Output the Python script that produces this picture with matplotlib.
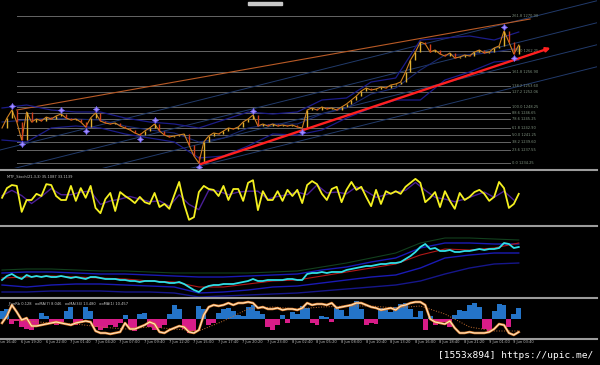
'''Gold M5 chart with stochastic, price window and histogram panels'''
import numpy as np
import matplotlib.pyplot as plt
from matplotlib.lines import Line2D
from matplotlib.patches import Rectangle

# 1. Data (one point every 32 min of bars).
price = [1243.00, 1245.50, 1247.50, 1244.50, 1240.00, 1247.00, 1244.50, 1245.25, 1244.75, 1245.75,
         1245.25, 1246.00, 1246.50, 1245.50, 1245.00, 1245.25, 1244.50, 1243.25, 1245.50, 1246.75,
         1244.75, 1244.25, 1244.00, 1244.25, 1243.50, 1243.00, 1242.50, 1241.75, 1241.25, 1242.25,
         1243.00, 1244.00, 1242.25, 1241.25, 1240.75, 1241.00, 1241.25, 1241.50, 1238.75, 1236.00,
         1234.25, 1239.50, 1241.00, 1241.75, 1241.50, 1242.25, 1243.00, 1242.75, 1243.25, 1244.50,
         1245.25, 1246.25, 1243.50, 1244.00, 1243.50, 1244.00, 1243.50, 1243.75, 1243.50, 1243.75,
         1243.25, 1243.00, 1247.50, 1248.00, 1247.50, 1248.25, 1247.75, 1248.00, 1247.50, 1248.25,
         1249.00, 1250.00, 1251.00, 1252.25, 1253.00, 1252.50, 1252.75, 1253.25, 1253.00, 1253.75,
         1254.00, 1254.50, 1257.00, 1260.00, 1262.00, 1264.50, 1264.00, 1262.00, 1262.50, 1261.50,
         1261.00, 1261.75, 1260.50, 1260.75, 1261.25, 1261.00, 1262.00, 1262.50, 1261.75, 1262.00,
         1263.00, 1263.50, 1267.25, 1264.50, 1261.50, 1263.75]

# Fractals: index and direction (1 up, -1 down).
fractalIdx = [2, 4, 12, 17, 19, 28, 31, 40, 51, 61, 102, 104]
fractalDir = [1, -1, 1, -1, 1, -1, 1, -1, 1, -1, 1, -1]

# Bollinger bands, every 5 bars.
bandIdx = list(range(0, 106, 5))
bbUpper = [1248.0, 1248.75, 1247.5, 1247.0, 1247.0, 1245.5, 1244.5, 1244.0, 1243.0, 1245.0, 1247.0,
           1246.5, 1247.0, 1250.0, 1250.5, 1254.5, 1255.5, 1265.0, 1265.5, 1266.0, 1265.0, 1267.0]
bbMiddle = [1244.5, 1245.0, 1245.5, 1245.25, 1245.0, 1243.5, 1242.5, 1241.75, 1239.5, 1240.5, 1243.0,
            1244.0, 1244.0, 1246.5, 1248.0, 1251.5, 1253.0, 1257.5, 1261.25, 1261.25, 1262.0, 1263.0]
bbLower = [1240.0, 1239.5, 1243.0, 1243.5, 1243.0, 1241.5, 1240.5, 1239.5, 1235.5, 1236.0, 1238.5,
           1241.5, 1241.25, 1242.5, 1245.5, 1248.0, 1250.0, 1250.0, 1255.0, 1257.0, 1259.5, 1260.0]

# Fibonacci retracement between the swing low and high.
fibLow = 1234.25
fibHigh = 1248.25
fibLevels = [0.0, 23.6, 38.2, 50.0, 61.8, 78.6, 88.6, 100.0, 127.2, 138.2, 161.8, 200.0, 261.8]
fibStart = 3.0
fibEnd = 103.2

# Trendlines (index, price).
redLineX = [39.8, 112.0]
redLineY = [1233.75, 1263.25]
orangeLineX = [3.0, 107.3]
orangeLineY = [1247.5, 1270.25]
channelX = [-0.4, 121.5]
channelStart = [1237.5, 1232.0, 1226.5, 1221.0]
channelEnd = [1275.0, 1269.5, 1264.0, 1258.5]

# Stochastic.
stochK = [55, 77, 84, 82, 23, 50, 50, 64, 59, 86,
          84, 59, 50, 50, 82, 48, 77, 55, 82, 32,
          20, 52, 66, 25, 68, 59, 52, 43, 57, 45,
          41, 66, 34, 41, 30, 61, 91, 41, 5, 11,
          68, 82, 75, 73, 59, 82, 50, 75, 75, 48,
          89, 95, 27, 70, 50, 50, 70, 48, 73, 59,
          73, 43, 84, 93, 86, 64, 50, 75, 80, 45,
          73, 91, 73, 80, 57, 36, 73, 41, 70, 64,
          70, 64, 80, 89, 98, 89, 45, 55, 68, 34,
          70, 48, 30, 66, 50, 57, 68, 73, 64, 48,
          57, 91, 77, 32, 41, 64]
stochDIdx = list(range(0, 106, 2))
stochD = [60, 72, 60, 42, 58, 76, 62, 62, 68, 70,
          40, 48, 52, 58, 52, 46, 48, 36, 62, 40,
          28, 72, 70, 62, 68, 70, 70, 52, 58, 62,
          68, 62, 84, 66, 68, 64, 80, 70, 56, 62,
          68, 72, 90, 72, 56, 52, 46, 52, 60, 68,
          56, 70, 50]

# Third window: cyan line with envelopes.
cyan = [20, 24, 26, 23, 21, 25, 23, 24, 23, 24,
        23, 23, 24, 23, 22, 23, 22, 21, 23, 23,
        22, 21, 21, 21, 20, 20, 19, 19, 18, 19,
        19, 19, 18, 18, 17, 17, 18, 16, 13, 10,
        8, 12, 14, 15, 15, 16, 16, 16, 17, 18,
        19, 21, 19, 19, 20, 20, 20, 20, 21, 21,
        20, 20, 26, 27, 27, 28, 27, 28, 28, 28,
        30, 31, 32, 33, 34, 34, 35, 36, 36, 37,
        37, 38, 41, 44, 48, 53, 56, 51, 52, 49,
        49, 50, 48, 48, 49, 49, 50, 51, 50, 51,
        51, 52, 57, 56, 52, 53]
envUpper = [27, 28, 28, 27, 26, 26, 25, 24, 23, 23, 24, 25, 26, 30, 33, 38, 42, 52, 57, 57, 56, 56]
envLower = [15, 13, 15, 16, 16, 15, 14, 13, 7, 8, 10, 13, 14, 17, 20, 23, 25, 32, 42, 45, 47, 47]
envOuterLow = [8, 8, 9, 9, 9, 8, 8, 7, 3, 4, 5, 6, 7, 9, 11, 13, 15, 19, 26, 32, 36, 37]
envOuterUp = [30, 31, 31, 30, 29, 29, 28, 27, 27, 27, 27, 28, 29, 33, 37, 42, 47, 57, 62, 62, 61, 60]
redMA = [22, 23, 24, 23, 22, 21, 19, 18, 13, 13, 16, 19, 20, 24, 28, 32, 36, 45, 51, 50, 52, 57]

# Bottom window: histogram and line.
funLine = [-4, 3, 14, 7, -1, 1, -7, -7, -6, -5,
           -4, -3, -4, -5, -6, -4, -3, -2, -3, -12,
           -14, -14, -15, -14, -13, -4, -10, -10, -8, -6,
           -3, -5, -13, -14, -11, -9, -7, -8, -13, -14,
           -11, 4, 12, 14, 13, 14, 16, 14, 16, 16,
           17, 16, 11, 12, 10, 10, 11, 9, 10, 10,
           9, 11, 16, 14, 15, 15, 14, 16, 11, 12,
           13, 14, 16, 16, 14, 12, 11, 9, 10, 11,
           9, 13, 14, 16, 17, 17, 14, 0, -3, -4,
           -5, -2, -9, -14, -14, -13, -14, -14, -14, -13,
           -10, -5, -6, -14, -16, -13]
funHist = [8, 10, -5, -2, -8, -10, -11, -6, 6, 3,
           -5, -6, -3, 8, 12, -6, -4, 12, 8, -8,
           -11, -9, -6, -8, -4, 4, -10, -12, 5, 6,
           -8, -11, -9, -6, 5, 14, 10, -10, -14, -12,
           13, 10, -6, -4, 6, 10, 11, 8, 4, 3,
           12, 14, 8, 5, -8, -11, -6, 4, -4, 7,
           5, 13, 11, -4, -6, 3, 2, -3, 11, 9,
           3, 15, 18, 10, -6, -4, -5, 11, 9, 7,
           12, 15, 16, 10, 2, 8, -11, 3, -6, -4,
           -3, -8, 4, 9, 8, 14, 16, 12, -10, -13,
           8, 15, 14, -8, 5, 11]
funMA = [0, -2, -4, -5, -8, -10, -8, -10, -12, -2, 10, 12, 10, 12, 13, 13, 11, 13, 5, -8, -12, -12]

timeLabels = ["6 Jun 16:40", "6 Jun 19:20", "6 Jun 22:00", "7 Jun 01:40", "7 Jun 04:20",
              "7 Jun 07:00", "7 Jun 09:40", "7 Jun 12:20", "7 Jun 15:00", "7 Jun 17:40",
              "7 Jun 20:20", "7 Jun 23:00", "8 Jun 02:40", "8 Jun 05:20", "8 Jun 08:00",
              "8 Jun 10:40", "8 Jun 13:20", "8 Jun 16:00", "8 Jun 18:40", "8 Jun 21:20",
              "9 Jun 01:00", "9 Jun 03:40"]
# Each label is 5 bars apart.
timeTicks = np.arange(len(timeLabels)) * 5 - 1.14

# 2. Figure and windows (pixel layout of the terminal).
W, H = 600, 365
fig = plt.figure(figsize=(6, 3.65), dpi=100, facecolor='black')


def window(top, bottom):
    ax = fig.add_axes([0, 1 - bottom / H, 597 / W, (bottom - top) / H])
    ax.set_facecolor('black')
    ax.set_xlim(-0.41, 120.9)
    ax.axis('off')
    return ax


ax1 = window(0, 168)
ax2 = window(172, 225)
ax3 = window(228, 297)
ax4 = window(300, 337)

ax1.set_ylim(1233.0, 1275.0)
ax2.set_ylim(-6.8, 113.6)
ax3.set_ylim(3, 72)
ax4.set_ylim(-18, 19)

x = np.arange(len(price))

# 2.1 Main window.
for lvl in fibLevels:
    p = fibLow + lvl / 100.0 * (fibHigh - fibLow)
    ax1.plot([fibStart, fibEnd], [p, p], color='#666666', lw=0.7, zorder=1)
    ax1.text(fibEnd + 0.4, p, "%.1f %.2f" % (lvl, p), color='#7f917f',
             fontsize=2.6, va='center', ha='left')

for s, e in zip(channelStart, channelEnd):
    ax1.plot(channelX, [s, e], color='#213a6a', lw=0.7, zorder=1)

ax1.plot(orangeLineX, orangeLineY, color='#b85a26', lw=0.8, zorder=2)

ax1.plot(bandIdx, bbUpper, color='#1c1c88', lw=0.9, zorder=2)
ax1.plot(bandIdx, bbMiddle, color='#18266e', lw=0.8, zorder=2)
ax1.plot(bandIdx, bbLower, color='#1c1c88', lw=0.9, zorder=2)

ax1.plot(x, price, color='#d08020', lw=0.8, zorder=3)
for i in range(1, len(price)):
    up = price[i] >= price[i - 1]
    ax1.vlines(i, min(price[i - 1], price[i]), max(price[i - 1], price[i]),
               color='#e0b030' if up else '#d0401c', lw=1.0, zorder=4)

ax1.annotate('', xy=(redLineX[1], redLineY[1]), xytext=(redLineX[0], redLineY[0]),
             arrowprops=dict(arrowstyle='-|>', color='#ff2020', lw=1.7,
                             mutation_scale=6), zorder=5)

for i, d in zip(fractalIdx, fractalDir):
    ax1.plot(i, price[i] + d * 1.0, marker=(4, 1, 0), ms=4.5,
             color='#a08cff', mec='#7060ff', mew=0.4, zorder=6)

# 2.2 Stochastic window.
ax2.plot(stochDIdx, stochD, color='#4a1e96', lw=1.0)
ax2.plot(x, stochK, color='#f4f020', lw=1.3)
ax2.text(1, 108, "MTF_Stoch(21,3,3) 35.1087 33.1139", color='#c8c8c8',
         fontsize=2.6, va='top', ha='left')

# 2.3 Third window.
ax3.plot(bandIdx, envOuterUp, color='#12401e', lw=0.8)
ax3.plot(bandIdx, envUpper, color='#1a1ab4', lw=1.0)
ax3.plot(bandIdx, envLower, color='#1a1ab4', lw=1.0)
ax3.plot(bandIdx, envOuterLow, color='#16168a', lw=1.0)
ax3.plot(bandIdx, redMA, color='#b01818', lw=0.8)
ax3.plot(x, cyan, color='#30e0e8', lw=1.3)

# 2.4 Bottom window.
colors = ['#2474c8' if v >= 0 else '#d81c88' for v in funHist]
ax4.bar(x, funHist, width=1.0, color=colors, zorder=1)
ax4.plot(bandIdx, funMA, color='#c87030', lw=0.7, ls=':', zorder=2)
ax4.plot(x, funLine, color='#e08030', lw=1.8, zorder=3)
ax4.plot(x, funLine, color='#ffe6c0', lw=0.8, zorder=4)
ax4.text(1, 18, "_FunRb 0.128   ooMA(7) 8.046   ooMA(34) 13.480   ooMA(1) 10.457",
         color='#c8c8c8', fontsize=2.6, va='top', ha='left')

for t, lab in zip(timeTicks, timeLabels):
    ax4.text(t, -0.14, lab, transform=ax4.get_xaxis_transform(), color='#c0c0c0',
             fontsize=2.6, va='center', ha='left')

# 3. Window separators, title box and watermark.
for yp in [170, 226, 298, 338.5]:
    fig.add_artist(Line2D([0, 597 / W], [1 - yp / H, 1 - yp / H],
                          transform=fig.transFigure, color='#9c9c9c', lw=1.5))

fig.add_artist(Rectangle((248 / W, 1 - 5 / H), 34 / W, 3 / H,
                         transform=fig.transFigure, color='#c8c8c8'))

fig.text(593 / W, 1 - 355 / H, "[1553x894] https://upic.me/", color='white',
         fontsize=6.8, family='DejaVu Sans Mono', ha='right', va='center')

fig.savefig('out.png', dpi=100, facecolor='black')
